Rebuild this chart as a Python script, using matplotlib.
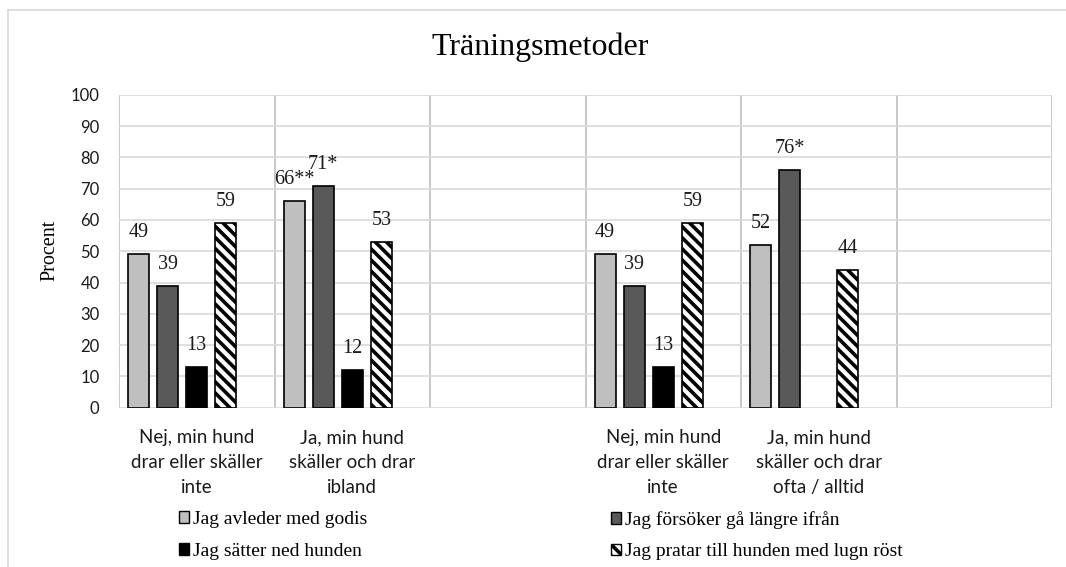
import numpy as np
import matplotlib
matplotlib.use("Agg")
import matplotlib.pyplot as plt
from matplotlib.patches import Patch
from matplotlib.lines import Line2D

categories = ["Nej, min hund\ndrar eller skäller\ninte",
              "Ja, min hund\nskäller och drar\nibland",
              "",
              "Nej, min hund\ndrar eller skäller\ninte",
              "Ja, min hund\nskäller och drar\nofta / alltid",
              ""]
series_names = ["Jag avleder med godis", "Jag försöker gå längre ifrån",
                "Jag sätter ned hunden", "Jag pratar till hunden med lugn röst"]
avleder = [49, 66, np.nan, 49, 52, np.nan]
forsoker = [39, 71, np.nan, 39, 76, np.nan]
satter = [13, 12, np.nan, 13, np.nan, np.nan]
pratar = [59, 53, np.nan, 59, 44, np.nan]
avleder_lbl = ["49", "66**", "", "49", "52", ""]
forsoker_lbl = ["39", "71*", "", "39", "76*", ""]
satter_lbl = ["13", "12", "", "13", "", ""]
pratar_lbl = ["59", "53", "", "59", "44", ""]
yticks = list(range(0, 101, 10))

plt.rcParams['hatch.linewidth'] = 2.6
SERIF = ['Liberation Serif', 'DejaVu Serif']
SANS = ['Lato', 'DejaVu Sans']

W, H = 1066, 567
fig = plt.figure(figsize=(W / 100, H / 100), dpi=100)
ax = fig.add_axes([119 / W, 1 - 407.5 / H, (1052 - 119) / W, (407.5 - 95) / H])

values = [avleder, forsoker, satter, pratar]
labels = [avleder_lbl, forsoker_lbl, satter_lbl, pratar_lbl]
styles = [dict(facecolor='#BFBFBF', edgecolor='black', linewidth=1.2),
          dict(facecolor='#595959', edgecolor='black', linewidth=1.2),
          dict(facecolor='black', edgecolor='black', linewidth=1.2),
          dict(facecolor='white', edgecolor='black', linewidth=1.2, hatch='\\\\\\')]

x = np.arange(len(categories)) + 0.5
pitch = 0.187
width = 0.135
for j, (vals, lbls, st) in enumerate(zip(values, labels, styles)):
    xs = x + (j - 2) * pitch
    v = np.array(vals, dtype=float)
    ok = ~np.isnan(v)
    ax.bar(xs[ok], v[ok], width=width, zorder=3, **st)
    for xi, vi, li in zip(xs, v, lbls):
        if li:
            ax.annotate(li, (xi, vi), xytext=(0, 15.5), textcoords='offset points',
                        ha='center', va='center', fontsize=14.5, family=SERIF,
                        color='#1a1a1a', zorder=4)

ax.set_xlim(0, len(categories))
ax.set_ylim(0, 100)
ax.set_yticks(yticks)
ax.set_yticklabels([str(t) for t in yticks], family=SANS, fontsize=12, color='#1a1a1a')
ax.tick_params(axis='y', length=0, pad=14)
ax.set_xticks([])
for b in range(len(categories) + 1):
    ax.axvline(b, color='#BFBFBF', lw=1.2, zorder=1)
for t in yticks:
    ax.axhline(t, color='#D9D9D9', lw=1.2, zorder=1)
for s in ax.spines.values():
    s.set_visible(False)

for xi, c in zip(x, categories):
    ax.text(xi, -7.0, c, ha='center', va='top', family=SANS, fontsize=13.5,
            color='#1a1a1a', linespacing=1.55)

fig.text(50 / W, 1 - 250 / H, "Procent", rotation=90, ha='center', va='center',
         family=SERIF, fontsize=14.5)
fig.text(540 / W, 1 - 47 / H, "Träningsmetoder", ha='center', va='center',
         family=SERIF, fontsize=23)

handles = [Patch(facecolor=st['facecolor'], edgecolor='black', linewidth=1.0,
                 hatch=st.get('hatch')) for st in styles]
leg_kw = dict(frameon=False, handlelength=0.5, handleheight=0.55, handletextpad=0.2,
              labelspacing=0.75, borderpad=0, borderaxespad=0,
              prop={'family': SERIF, 'size': 14}, loc='upper left')
l1 = fig.legend([handles[0], handles[2]], [series_names[0], series_names[2]],
                bbox_to_anchor=(179 / W, 1 - 511 / H), **leg_kw)
l2 = fig.legend([handles[1], handles[3]], [series_names[1], series_names[3]],
                bbox_to_anchor=(611 / W, 1 - 511 / H), **leg_kw)

fig.add_artist(Line2D([7.5 / W, 7.5 / W], [0, 1 - 10 / H], color='#D9D9D9', lw=1.2,
                      transform=fig.transFigure))
fig.add_artist(Line2D([7.5 / W, 1], [1 - 10 / H, 1 - 10 / H], color='#D9D9D9', lw=1.2,
                      transform=fig.transFigure))

fig.savefig("out.png", dpi=100)
